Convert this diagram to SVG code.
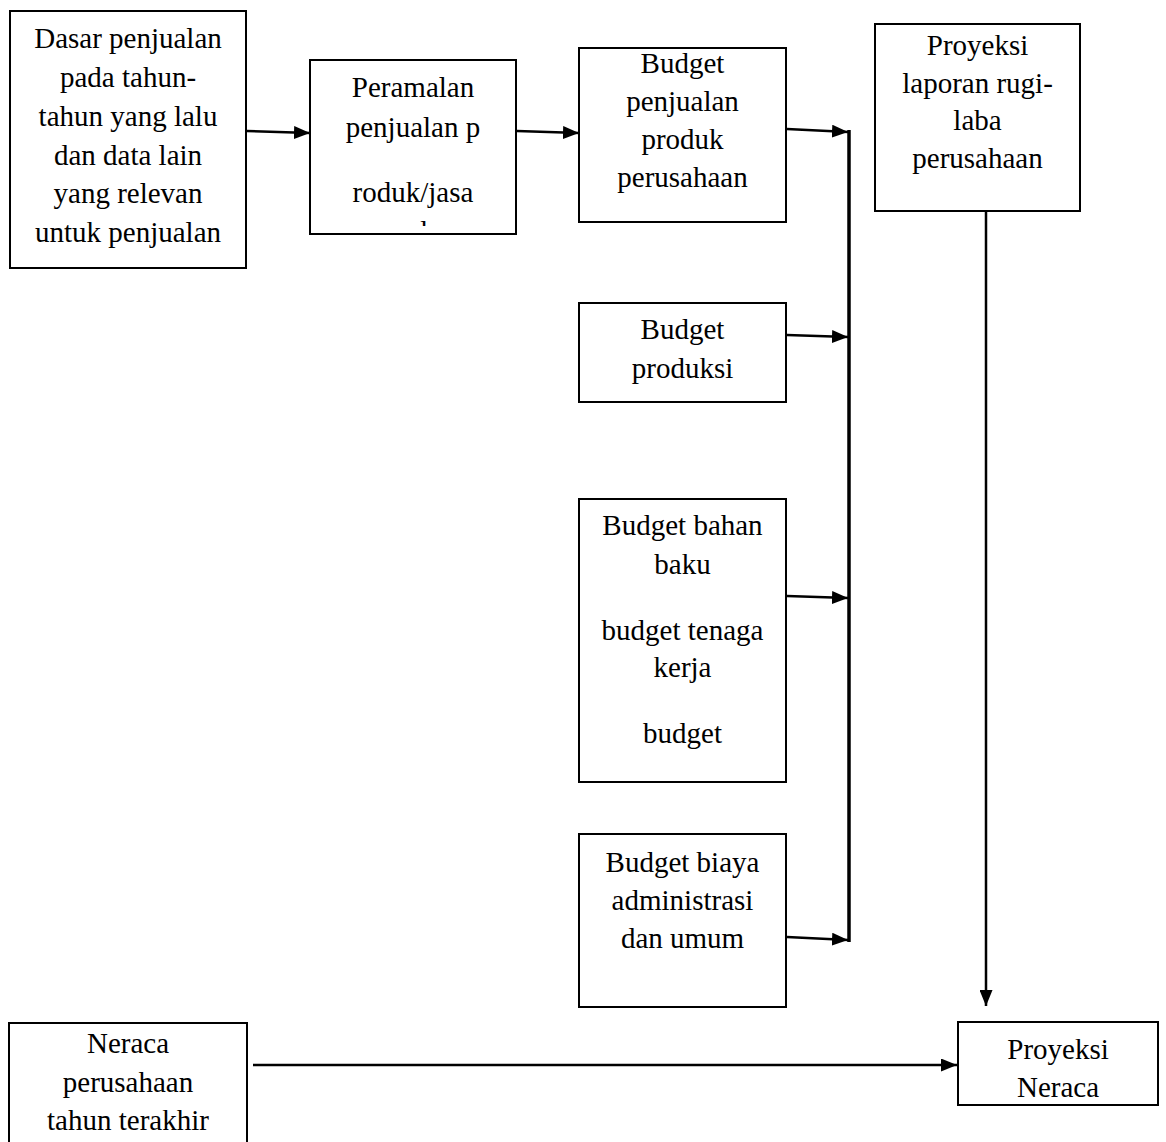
<svg xmlns="http://www.w3.org/2000/svg" width="1166" height="1142" viewBox="0 0 1166 1142">
<style>
  .box { fill: #ffffff; stroke: #000000; stroke-width: 2; }
  .t { font-family: "Liberation Serif", "Times New Roman", serif; font-size: 29px; fill: #000000; text-anchor: middle; }
  .c { fill: none; stroke: #000000; stroke-width: 2.5; }
  .bus { fill: none; stroke: #000000; stroke-width: 3.5; }
</style>
<defs>
  <marker id="ah" markerUnits="userSpaceOnUse" markerWidth="17" markerHeight="13" refX="16" refY="6.5" orient="auto">
    <path d="M0,0 L16,6.5 L0,13 z" fill="#000000"/>
  </marker>
  <clipPath id="clipP">
    <rect x="310" y="60" width="206" height="166"/>
  </clipPath>
</defs>
<rect width="1166" height="1142" fill="#ffffff"/>

<g id="connectors">
  <line class="c" x1="247" y1="131" x2="310" y2="133" marker-end="url(#ah)"/>
  <line class="c" x1="517" y1="131" x2="579" y2="133" marker-end="url(#ah)"/>
  <line class="bus" x1="849" y1="130" x2="849" y2="942"/>
  <line class="c" x1="787" y1="129" x2="848" y2="132" marker-end="url(#ah)"/>
  <line class="c" x1="787" y1="335" x2="848" y2="337" marker-end="url(#ah)"/>
  <line class="c" x1="787" y1="596" x2="848" y2="598" marker-end="url(#ah)"/>
  <line class="c" x1="787" y1="937" x2="848" y2="940" marker-end="url(#ah)"/>
  <line class="c" x1="986" y1="211" x2="986" y2="1006" marker-end="url(#ah)"/>
  <line class="c" x1="253" y1="1065" x2="957" y2="1065" marker-end="url(#ah)"/>
</g>

<g id="n-dasar">
  <rect class="box" x="10" y="11" width="236" height="257"/>
  <text class="t" x="128" y="48">Dasar penjualan</text>
  <text class="t" x="128" y="87">pada tahun-</text>
  <text class="t" x="128" y="126">tahun yang lalu</text>
  <text class="t" x="128" y="165">dan data lain</text>
  <text class="t" x="128" y="203">yang relevan</text>
  <text class="t" x="128" y="242">untuk penjualan</text>
</g>

<g id="n-peramalan">
  <rect class="box" x="310" y="60" width="206" height="174"/>
  <text class="t" x="413" y="97">Peramalan</text>
  <text class="t" x="413" y="137">penjualan p</text>
  <text class="t" x="413" y="202">roduk/jasa</text>
  <text class="t" x="420" y="241" clip-path="url(#clipP)">d</text>
</g>

<g id="n-budget-penjualan">
  <rect class="box" x="579" y="48" width="207" height="174"/>
  <text class="t" x="682.5" y="73">Budget</text>
  <text class="t" x="682.5" y="111">penjualan</text>
  <text class="t" x="682.5" y="149">produk</text>
  <text class="t" x="682.5" y="187">perusahaan</text>
</g>

<g id="n-proyeksi-laba">
  <rect class="box" x="875" y="24" width="205" height="187"/>
  <text class="t" x="977.5" y="55">Proyeksi</text>
  <text class="t" x="977.5" y="93">laporan rugi-</text>
  <text class="t" x="977.5" y="130">laba</text>
  <text class="t" x="977.5" y="168">perusahaan</text>
</g>

<g id="n-budget-produksi">
  <rect class="box" x="579" y="303" width="207" height="99"/>
  <text class="t" x="682.5" y="339">Budget</text>
  <text class="t" x="682.5" y="378">produksi</text>
</g>

<g id="n-budget-bahan">
  <rect class="box" x="579" y="499" width="207" height="283"/>
  <text class="t" x="682.5" y="535">Budget bahan</text>
  <text class="t" x="682.5" y="574">baku</text>
  <text class="t" x="682.5" y="640">budget tenaga</text>
  <text class="t" x="682.5" y="677">kerja</text>
  <text class="t" x="682.5" y="743">budget</text>
</g>

<g id="n-budget-biaya">
  <rect class="box" x="579" y="834" width="207" height="173"/>
  <text class="t" x="682.5" y="872">Budget biaya</text>
  <text class="t" x="682.5" y="910">administrasi</text>
  <text class="t" x="682.5" y="948">dan umum</text>
</g>

<g id="n-neraca">
  <rect class="box" x="9" y="1023" width="238" height="140"/>
  <text class="t" x="128" y="1053">Neraca</text>
  <text class="t" x="128" y="1092">perusahaan</text>
  <text class="t" x="128" y="1130">tahun terakhir</text>
</g>

<g id="n-proyeksi-neraca">
  <rect class="box" x="958" y="1022" width="200" height="83"/>
  <text class="t" x="1058" y="1059">Proyeksi</text>
  <text class="t" x="1058" y="1097">Neraca</text>
</g>
</svg>
